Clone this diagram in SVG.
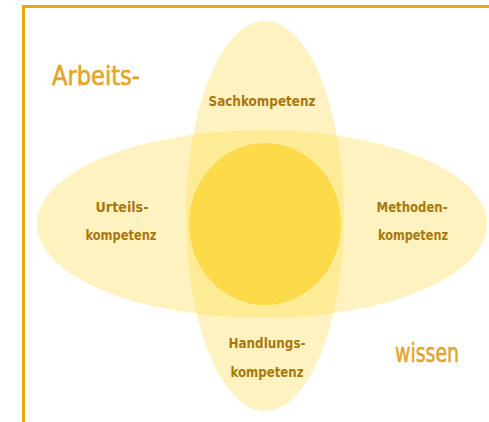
<svg xmlns="http://www.w3.org/2000/svg" width="489" height="422" viewBox="0 0 489 422">
<style>
.petal{fill:#FBD93C;fill-opacity:0.32}
.core{fill:#FDDA4A}
.lbl{font-family:"DejaVu Sans Condensed","Liberation Sans",sans-serif;font-size:14px;font-weight:bold;fill:#A8780E;text-anchor:middle}
.big{font-family:"DejaVu Sans Condensed","Liberation Sans",sans-serif;font-size:27px;fill:#E3A52A;stroke:#E3A52A;stroke-width:0.6}
</style>
<rect width="489" height="422" fill="#FFFFFF"/>
<g id="frame">
<path d="M23.5,422 V6.5 H489" fill="none" stroke="#E8A812" stroke-width="3"/>
</g>
<g id="horizontal">
<ellipse class="petal" cx="262" cy="224" rx="225" ry="94"/>
</g>
<g id="vertical">
<ellipse class="petal" cx="265" cy="216" rx="79" ry="195"/>
</g>
<g id="center">
<ellipse class="core" cx="265" cy="224" rx="76" ry="81"/>
</g>
<g id="sachkompetenz">
<text class="lbl" x="262" y="106" textLength="107" lengthAdjust="spacingAndGlyphs">Sachkompetenz</text>
</g>
<g id="urteilskompetenz">
<text class="lbl" x="122" y="212" textLength="53" lengthAdjust="spacingAndGlyphs">Urteils-</text>
<text class="lbl" x="121" y="240" textLength="71" lengthAdjust="spacingAndGlyphs">kompetenz</text>
</g>
<g id="methodenkompetenz">
<text class="lbl" x="412" y="212" textLength="71" lengthAdjust="spacingAndGlyphs">Methoden-</text>
<text class="lbl" x="413" y="240" textLength="70" lengthAdjust="spacingAndGlyphs">kompetenz</text>
</g>
<g id="handlungskompetenz">
<text class="lbl" x="267" y="348" textLength="77" lengthAdjust="spacingAndGlyphs">Handlungs-</text>
<text class="lbl" x="267" y="377" textLength="73" lengthAdjust="spacingAndGlyphs">kompetenz</text>
</g>
<g id="arbeitswissen">
<text class="big" x="52" y="85" textLength="88" lengthAdjust="spacingAndGlyphs">Arbeits-</text>
<text class="big" x="395" y="362" textLength="64" lengthAdjust="spacingAndGlyphs">wissen</text>
</g>
</svg>
